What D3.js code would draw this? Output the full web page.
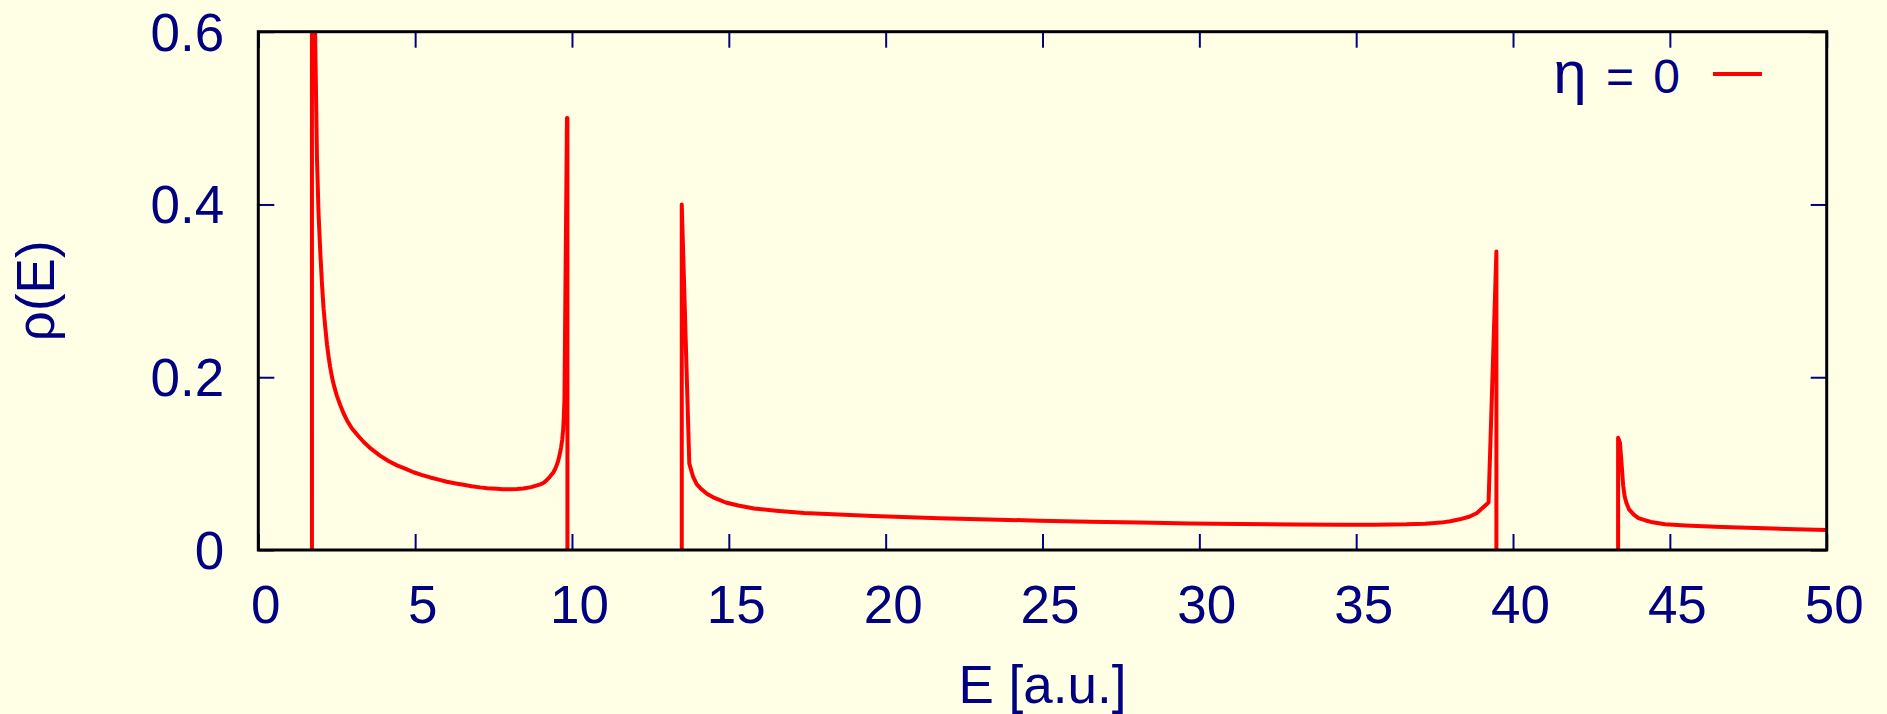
<!DOCTYPE html>
<html>
<head>
<meta charset="utf-8">
<script src="https://cdn.jsdelivr.net/npm/d3@7"></script>
<style>
  html, body { margin: 0; padding: 0; background: #ffffe6; }
  svg { display: block; }
  text { font-family: "Liberation Sans", Arial, sans-serif; fill: #000080; }
</style>
</head>
<body>
<svg id="chart" width="1887" height="714"></svg>
<script>
// Density of states rho(E); null entries separate the three branches.
const energy = [
  1.71, 1.71, 1.87, 1.92, 1.98, 2.03, 2.08, 2.14, 2.19, 2.24, 2.29, 2.35, 2.40, 2.50, 2.61,
  2.72, 2.83, 2.98, 3.14, 3.36, 3.60, 3.89, 4.15, 4.42, 4.70, 4.95, 5.20, 5.48, 5.75, 6.01,
  6.30, 6.54, 6.80, 7.07, 7.30, 7.60, 7.80, 8.03, 8.25, 8.45, 8.70, 8.99, 9.10, 9.20, 9.30,
  9.41, 9.48, 9.55, 9.60, 9.65, 9.69, 9.72, 9.74, 9.76, 9.84, 9.855, 9.855, null,
  13.5, 13.5, 13.74, 13.86, 13.98, 14.14, 14.30, 14.5, 14.7, 14.9, 15.3, 15.8, 16.5, 17.4,
  18.5, 19.6, 21.7, 23.3, 24.9, 26.5, 28.1, 29.7, 31.3, 33.0, 34.5, 35.6, 36.6, 37.2, 37.7,
  38.0, 38.3, 38.6, 38.84, 39.22, 39.47, 39.47, null,
  43.35, 43.35, 43.41, 43.46, 43.51, 43.56, 43.62, 43.7, 43.85, 44.0, 44.2, 44.4, 44.84,
  45.5, 46.44, 47.2, 48.03, 49.0, 50
];
const rho = [
  0, 0.85, 0.454, 0.390, 0.342, 0.308, 0.280, 0.256, 0.238, 0.224, 0.212, 0.200, 0.192, 0.179, 0.168,
  0.158, 0.150, 0.141, 0.134, 0.125, 0.117, 0.109, 0.103, 0.098, 0.094, 0.090, 0.087, 0.084, 0.0815, 0.079,
  0.077, 0.0755, 0.0738, 0.0725, 0.0716, 0.0708, 0.0704, 0.0703, 0.0706, 0.0713, 0.0728, 0.076, 0.0778, 0.081, 0.085,
  0.090, 0.095, 0.102, 0.109, 0.118, 0.128, 0.140, 0.155, 0.174, 0.50, 0.50, 0, null,
  0, 0.40, 0.10, 0.085, 0.076, 0.070, 0.065, 0.061, 0.058, 0.055, 0.0515, 0.048, 0.0455, 0.0428,
  0.041, 0.0394, 0.0368, 0.0353, 0.034, 0.0328, 0.0317, 0.0308, 0.0301, 0.0295, 0.0291, 0.0292, 0.0297, 0.0305, 0.0317,
  0.0333, 0.0355, 0.0385, 0.0425, 0.055, 0.3455, 0, null,
  0, 0.130, 0.124, 0.10, 0.075, 0.062, 0.054, 0.047, 0.041, 0.037, 0.0345, 0.0325, 0.0297,
  0.0283, 0.027, 0.026, 0.0251, 0.0241, 0.0232
];

const xTicks = [0, 5, 10, 15, 20, 25, 30, 35, 40, 45, 50];
const yTicks = [0, 0.2, 0.4, 0.6];
const yTickLabels = ["0", "0.2", "0.4", "0.6"];
const xTitle = "E [a.u.]";
const yTitle = "ρ(E)";
const legendSymbol = "η";
const legendRest = " = 0";

const navy = "#000080";
const plotLeft = 258.3, plotRight = 1826.7, plotTop = 31.7, plotBottom = 550;

const svg = d3.select("#chart");

const x = d3.scaleLinear().domain([0, 50]).range([plotLeft, plotRight]);
const y = d3.scaleLinear().domain([0, 0.6]).range([plotBottom, plotTop]);

svg.append("defs").append("clipPath").attr("id", "plotClip")
  .append("rect")
  .attr("x", plotLeft).attr("y", plotTop)
  .attr("width", plotRight - plotLeft).attr("height", plotBottom - plotTop);

// the curve
const points = energy.map((e, i) => ({ e: e, r: rho[i] }));
const line = d3.line()
  .defined(d => d.e !== null && d.r !== null)
  .x(d => x(d.e))
  .y(d => y(d.r));

svg.append("path")
  .datum(points)
  .attr("clip-path", "url(#plotClip)")
  .attr("fill", "none")
  .attr("stroke", "#ff0000")
  .attr("stroke-width", 4)
  .attr("stroke-linejoin", "round")
  .attr("d", line);

// axes: inward ticks on all four sides
const tickLen = 16;
function styleAxis(g) {
  g.select(".domain").remove();
  g.selectAll(".tick line").attr("stroke", navy).attr("stroke-width", 2);
}

const gBottom = svg.append("g")
  .attr("transform", `translate(0,${plotBottom})`)
  .call(d3.axisBottom(x).tickValues(xTicks).tickFormat(d3.format("d")).tickSize(-tickLen))
  .call(styleAxis);
gBottom.selectAll(".tick text")
  .attr("y", 72.5).attr("dy", null).attr("x", 7)
  .attr("font-size", 53).attr("fill", navy)
  .style("font-family", "'Liberation Sans', Arial, sans-serif");

svg.append("g")
  .attr("transform", `translate(0,${plotTop})`)
  .call(d3.axisTop(x).tickValues(xTicks).tickFormat("").tickSize(-tickLen))
  .call(styleAxis);

const gLeft = svg.append("g")
  .attr("transform", `translate(${plotLeft},0)`)
  .call(d3.axisLeft(y).tickValues(yTicks).tickFormat((d, i) => yTickLabels[i]).tickSize(-tickLen))
  .call(styleAxis);
gLeft.selectAll(".tick text")
  .attr("x", -34).attr("dy", null).attr("y", 18.5)
  .attr("font-size", 53).attr("fill", navy)
  .style("font-family", "'Liberation Sans', Arial, sans-serif");

svg.append("g")
  .attr("transform", `translate(${plotRight},0)`)
  .call(d3.axisRight(y).tickValues(yTicks).tickFormat("").tickSize(-tickLen))
  .call(styleAxis);

// frame
svg.append("rect")
  .attr("x", plotLeft).attr("y", plotTop)
  .attr("width", plotRight - plotLeft).attr("height", plotBottom - plotTop)
  .attr("fill", "none").attr("stroke", "#000").attr("stroke-width", 3);

// axis titles
svg.append("text")
  .attr("x", (plotLeft + plotRight) / 2).attr("y", 703)
  .attr("text-anchor", "middle")
  .attr("font-size", 53)
  .text(xTitle);

svg.append("text")
  .attr("transform", `translate(53.5,${(plotTop + plotBottom) / 2}) rotate(-90)`)
  .attr("text-anchor", "middle")
  .attr("font-size", 53)
  .text(yTitle);

// legend
const legend = svg.append("text")
  .attr("x", 1680).attr("y", 93.3)
  .attr("text-anchor", "end")
  .attr("font-size", 48)
  .style("word-spacing", "6px")
  .attr("xml:space", "preserve");
legend.append("tspan").attr("font-size", 60).text(legendSymbol);
legend.append("tspan").text(legendRest);

svg.append("line")
  .attr("x1", 1713).attr("x2", 1762)
  .attr("y1", 74).attr("y2", 74)
  .attr("stroke", "#ff0000").attr("stroke-width", 4);
</script>
</body>
</html>
